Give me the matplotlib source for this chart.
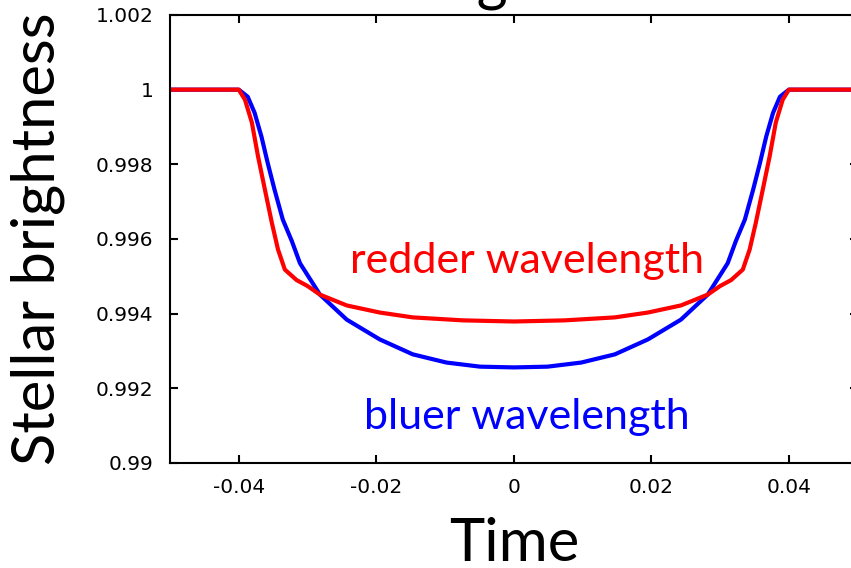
import matplotlib
matplotlib.use("Agg")
import matplotlib.pyplot as plt

# light curves (time, relative stellar brightness)
red_time = [-0.050, -0.0400, -0.0391, -0.0381, -0.0372, -0.0362, -0.0352, -0.0343,
            -0.0333, -0.0316, -0.0300, -0.0282, -0.0243, -0.0195, -0.0147, -0.0074,
            0.0,
            0.0074, 0.0147, 0.0195, 0.0243, 0.0282, 0.0300, 0.0316, 0.0333,
            0.0343, 0.0352, 0.0362, 0.0372, 0.0381, 0.0391, 0.0400, 0.050]
red_flux = [1.0, 1.0, 0.99973, 0.99912, 0.99821, 0.99732, 0.99644, 0.99572,
            0.99518, 0.99490, 0.99474, 0.99451, 0.99422, 0.99403, 0.99390, 0.99382,
            0.99379,
            0.99382, 0.99390, 0.99403, 0.99422, 0.99451, 0.99474, 0.99490, 0.99518,
            0.99572, 0.99644, 0.99732, 0.99821, 0.99912, 0.99973, 1.0, 1.0]

blue_time = [-0.050, -0.0400, -0.0387, -0.0377, -0.0367, -0.0358, -0.0348, -0.0336,
             -0.0323, -0.0311, -0.0282, -0.0243, -0.0195, -0.0147, -0.0098, -0.0049,
             0.0,
             0.0049, 0.0098, 0.0147, 0.0195, 0.0243, 0.0282, 0.0311, 0.0323,
             0.0336, 0.0348, 0.0358, 0.0367, 0.0377, 0.0387, 0.0400, 0.050]
blue_flux = [1.0, 1.0, 0.99981, 0.99938, 0.99874, 0.99804, 0.99732, 0.99652,
             0.99595, 0.99535, 0.99451, 0.99384, 0.99331, 0.99291, 0.99269, 0.99258,
             0.99256,
             0.99258, 0.99269, 0.99291, 0.99331, 0.99384, 0.99451, 0.99535, 0.99595,
             0.99652, 0.99732, 0.99804, 0.99874, 0.99938, 0.99981, 1.0, 1.0]

x_ticks = [-0.04, -0.02, 0, 0.02, 0.04]
x_labels = ["-0.04", "-0.02", "0", "0.02", "0.04"]
y_ticks = [0.99, 0.992, 0.994, 0.996, 0.998, 1.0, 1.002]
y_labels = ["0.99", "0.992", "0.994", "0.996", "0.998", "1", "1.002"]

label_font = "Lato"

fig = plt.figure(figsize=(8.51, 5.68), dpi=100)
ax = fig.add_axes([0.1998, 0.1849, 0.8080, 0.7887])

ax.plot(blue_time, blue_flux, color="#0000ff", lw=3, solid_joinstyle="round")
ax.plot(red_time, red_flux, color="#ff0000", lw=3, solid_joinstyle="round")

ax.set_xlim(-0.05, 0.05)
ax.set_ylim(0.99, 1.002)
ax.set_xticks(x_ticks)
ax.set_xticklabels(x_labels)
ax.set_yticks(y_ticks)
ax.set_yticklabels(y_labels)
ax.tick_params(direction="in", length=6, width=1.5, top=True, right=True,
               labelsize=14.5)
ax.tick_params(axis="y", pad=12)
ax.tick_params(axis="x", pad=11)
for s in ax.spines.values():
    s.set_linewidth(1.5)

ax.set_xlabel("Time", fontsize=43, family=label_font, labelpad=14)
ax.set_ylabel("Stellar brightness", fontsize=43, family=label_font, labelpad=22)
# title sits mostly above the top edge, only the descender shows
fig.text(500 / 851, 1.0, "Transit light curves", fontsize=43, family=label_font,
         ha="center", va="baseline")

ax.text(0.0019, 0.99510, "redder wavelength", color="#ff0000", fontsize=31,
        family=label_font, ha="center", va="baseline")
ax.text(0.0019, 0.99090, "bluer wavelength", color="#0000ff", fontsize=31,
        family=label_font, ha="center", va="baseline")

fig.savefig("out.png", dpi=100)
